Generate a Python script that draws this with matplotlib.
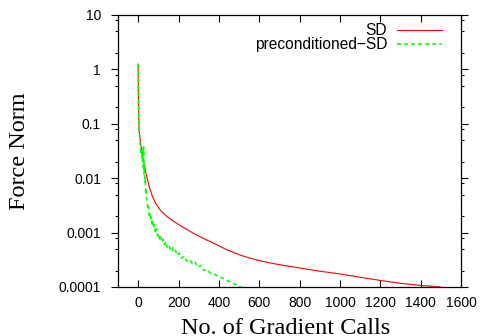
import matplotlib
matplotlib.use("Agg")
import matplotlib.pyplot as plt
from matplotlib.ticker import LogLocator, NullFormatter

# SD run (smooth)
sd_calls = [0, 1, 2, 3, 5, 8, 12, 18, 24, 30, 40, 55, 70, 88, 110, 138, 170,
            204, 245, 287, 330, 369, 436, 502, 550, 601, 650, 700, 800, 900,
            1000, 1100, 1200, 1300, 1400, 1500]
sd_force = [1.25, 0.4, 0.2, 0.126, 0.0724, 0.0575, 0.0437, 0.0309, 0.0229,
            0.0178, 0.0117, 0.0069, 0.00468, 0.00339, 0.00257, 0.00204,
            0.00166, 0.00138, 0.00112, 0.00091, 0.00076, 0.00065, 0.00049,
            0.00039, 0.000343, 0.000305, 0.000279, 0.000257, 0.000224,
            0.000195, 0.000174, 0.000151, 0.000132, 0.000117, 0.000107, 0.0001]

# preconditioned SD run (noisy)
pc_calls = [0, 1, 2, 3, 5, 7, 9, 11, 13, 15, 17, 19, 21, 23, 25, 27, 29, 31,
            33, 35, 37, 39, 42, 45, 48, 51, 54, 57, 60, 64, 68, 72, 76, 80, 85,
            90, 95, 100, 106, 112, 118, 124, 130, 137, 144, 152, 160, 168, 176,
            185, 194, 203, 215, 228, 240, 255, 268, 282, 295, 310, 325, 340,
            360, 380, 400, 420, 440, 460, 480, 500, 510]
pc_force = [1.25, 0.3, 0.16, 0.11, 0.07, 0.055, 0.045, 0.038, 0.03, 0.034,
            0.025, 0.033, 0.02, 0.036, 0.016, 0.038, 0.012, 0.018, 0.0085,
            0.01, 0.0055, 0.0062, 0.0038, 0.0036, 0.0027, 0.003, 0.0021,
            0.0024, 0.0017, 0.00195, 0.0014, 0.0016, 0.00122, 0.0014, 0.00098,
            0.00118, 0.00088, 0.00098, 0.00076, 0.00086, 0.00066, 0.00075,
            0.0006, 0.00068, 0.00054, 0.0006, 0.00048, 0.00053, 0.00043,
            0.00047, 0.00038, 0.00042, 0.00034, 0.00037, 0.0003, 0.00032,
            0.00027, 0.00029, 0.00023, 0.00025, 0.0002, 0.00021, 0.000175,
            0.00017, 0.000155, 0.000145, 0.000132, 0.00012, 0.000112,
            0.000102, 0.0001]

xticks = [0, 200, 400, 600, 800, 1000, 1200, 1400, 1600]
yticks = [1e1, 1, 1e-1, 1e-2, 1e-3, 1e-4]
ytick_labels = ["10", "1", "0.1", "0.01", "0.001", "0.0001"]

if __name__ == "__main__":
    sans = "Liberation Sans"
    serif = "Liberation Serif"

    fig = plt.figure(figsize=(4.81, 3.36), dpi=100)
    ax = fig.add_axes([118/481, 49/336, 343/481, 272/336])

    ax.plot(sd_calls, sd_force, color="#ff0000", lw=0.8, label="SD")
    ax.plot(pc_calls, pc_force, color="#00ff00", lw=1.1, dashes=(2.6, 2.0),
            label="preconditioned\u2212SD")

    ax.set_yscale("log")
    ax.set_xlim(-100, 1600)
    ax.set_ylim(1e-4, 10)
    ax.set_xticks(xticks)
    ax.set_xticklabels([str(t) for t in xticks], family=sans, fontsize=10)
    ax.set_yticks(yticks)
    ax.set_yticklabels(ytick_labels, family=sans, fontsize=10)
    ax.yaxis.set_minor_locator(LogLocator(base=10, subs=[2, 5, 8]))
    ax.yaxis.set_minor_formatter(NullFormatter())

    ax.tick_params(axis="x", which="major", direction="in", top=True,
                   length=5, width=0.8, pad=6.5)
    ax.tick_params(axis="y", which="major", direction="out", right=True,
                   length=4.8, width=0.8, pad=7.5)
    ax.tick_params(axis="y", which="minor", direction="out", right=True,
                   length=2.5, width=0.8)
    for s in ax.spines.values():
        s.set_linewidth(0.9)

    ax.legend(loc="upper right", bbox_to_anchor=(0.9446, 0.97),
              frameon=False, markerfirst=False, handlelength=2.9,
              handletextpad=0.64, labelspacing=-0.05, borderpad=0,
              borderaxespad=0, prop={"family": sans, "size": 11.2})

    fig.text(286/481, 2/336, "No. of Gradient Calls", family=serif,
             fontsize=17.5, ha="center", va="baseline")
    fig.text(20/481, 1 - 151/336, "Force Norm", family=serif, fontsize=17.5,
             ha="center", va="center", rotation=90)

    fig.savefig("out.png", dpi=100)
    plt.close(fig)
